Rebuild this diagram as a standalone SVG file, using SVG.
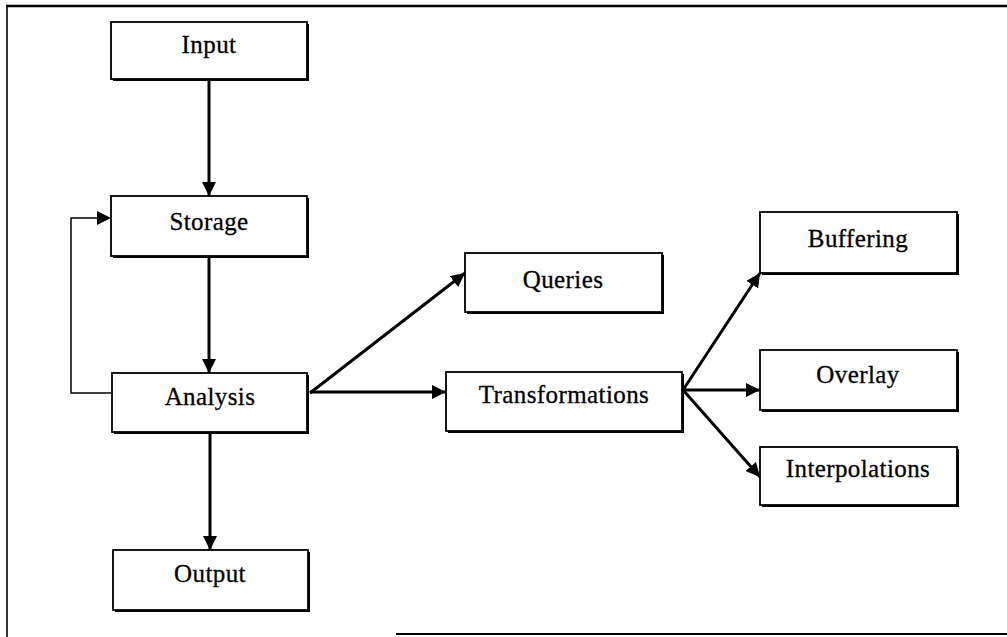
<svg xmlns="http://www.w3.org/2000/svg" width="1007" height="637" viewBox="0 0 1007 637">
  <defs>
    <marker id="arrow" viewBox="0 0 14 14" refX="14" refY="7" markerWidth="14" markerHeight="14" markerUnits="userSpaceOnUse" orient="auto">
      <path d="M0,0 L14,7 L0,14 z" fill="#000"/>
    </marker>
    <style>
      .shadow { fill: #000; }
      .box { fill: #fff; stroke: #000; stroke-width: 1.8; }
      .label { font-family: "Liberation Serif", "Times New Roman", serif; font-size: 25px; letter-spacing: 0.4px; text-anchor: middle; fill: #000; stroke: #000; stroke-width: 0.3px; }
      .conn { stroke: #000; stroke-width: 3; fill: none; }
      .thin { stroke: #000; stroke-width: 1.5; fill: none; }
      .frame { stroke: #000; fill: none; }
    </style>
  </defs>
  <rect width="1007" height="637" fill="#fff"/>

  <!-- outer frame -->
  <g id="frame">
    <line class="frame" x1="6" y1="6" x2="1007" y2="6" stroke-width="2.5"/>
    <line class="frame" x1="7" y1="5" x2="7" y2="637" stroke-width="1.6"/>
    <line class="frame" x1="396" y1="634" x2="1007" y2="634" stroke-width="2"/>
  </g>

  <!-- connectors -->
  <g id="connectors">
    <line class="conn" x1="209" y1="80" x2="209" y2="196" marker-end="url(#arrow)"/>
    <line class="conn" x1="209" y1="257" x2="209" y2="373" marker-end="url(#arrow)"/>
    <line class="conn" x1="210" y1="433" x2="210" y2="550" marker-end="url(#arrow)"/>
    <polyline class="thin" points="111,393 71,393 71,218 98,218"/>
    <path d="M97,211 L111,218 L97,225 z" fill="#000"/>
    <line class="conn" x1="310" y1="393" x2="465" y2="273" marker-end="url(#arrow)"/>
    <line class="conn" x1="310" y1="392" x2="446" y2="392" marker-end="url(#arrow)"/>
    <line class="conn" x1="683" y1="390" x2="760" y2="273" marker-end="url(#arrow)"/>
    <line class="conn" x1="683" y1="390" x2="760" y2="390" marker-end="url(#arrow)"/>
    <line class="conn" x1="683" y1="390" x2="760" y2="477" marker-end="url(#arrow)"/>
  </g>

  <g id="input">
    <rect class="shadow" x="113" y="24" width="196" height="57"/>
    <rect class="box" x="111" y="22" width="196" height="57"/>
    <text class="label" x="209" y="53">Input</text>
  </g>
  <g id="storage">
    <rect class="shadow" x="113" y="198" width="196" height="60"/>
    <rect class="box" x="111" y="196" width="196" height="60"/>
    <text class="label" x="209" y="230">Storage</text>
  </g>
  <g id="analysis">
    <rect class="shadow" x="114" y="375" width="195" height="59"/>
    <rect class="box" x="112" y="373" width="195" height="59"/>
    <text class="label" x="210" y="405">Analysis</text>
  </g>
  <g id="output">
    <rect class="shadow" x="115" y="552" width="195" height="60"/>
    <rect class="box" x="113" y="550" width="195" height="60"/>
    <text class="label" x="210" y="582">Output</text>
  </g>
  <g id="queries">
    <rect class="shadow" x="467" y="255" width="197" height="59"/>
    <rect class="box" x="465" y="253" width="197" height="59"/>
    <text class="label" x="563" y="288">Queries</text>
  </g>
  <g id="transformations">
    <rect class="shadow" x="448" y="374" width="236" height="59"/>
    <rect class="box" x="446" y="372" width="236" height="59"/>
    <text class="label" x="564" y="403">Transformations</text>
  </g>
  <g id="buffering">
    <rect class="shadow" x="762" y="214" width="197" height="61"/>
    <rect class="box" x="760" y="212" width="197" height="61"/>
    <text class="label" x="858" y="247">Buffering</text>
  </g>
  <g id="overlay">
    <rect class="shadow" x="762" y="352" width="197" height="60"/>
    <rect class="box" x="760" y="350" width="197" height="60"/>
    <text class="label" x="858" y="383">Overlay</text>
  </g>
  <g id="interpolations">
    <rect class="shadow" x="762" y="449" width="197" height="58"/>
    <rect class="box" x="760" y="447" width="197" height="58"/>
    <text class="label" x="858" y="477">Interpolations</text>
  </g>
</svg>
